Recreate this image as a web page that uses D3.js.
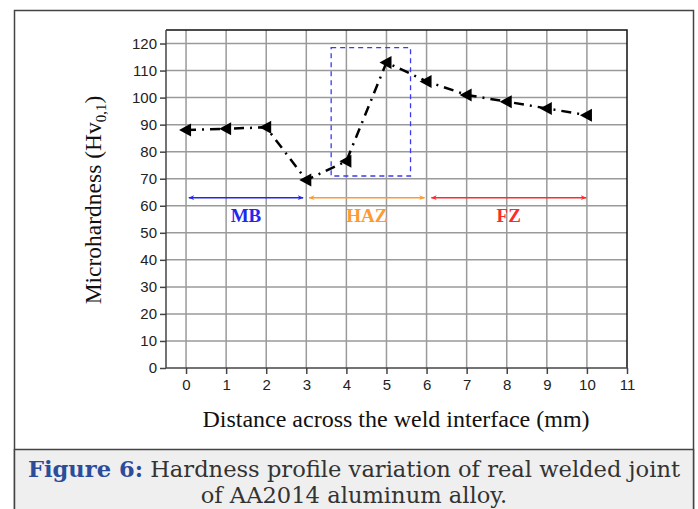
<!DOCTYPE html>
<meta charset="utf-8">
<style>
body { margin: 0; background: #fff; }
.grid line { stroke: #9a9a9a; stroke-width: 1.5px; }
.axis path, .axis line { stroke: #444; stroke-width: 1.5px; }
.lbl { font-family: 'Liberation Serif', 'Times New Roman', serif; fill: #111; }
.zone { font-family: 'Liberation Serif', serif; font-weight: bold; font-size: 19px; text-anchor: middle; }
.cap { font-family: 'DejaVu Serif', serif; font-size: 22.6px; fill: #333; }
</style>
<svg id="chart" width="698" height="509"></svg>
<script src="https://d3js.org/d3.v7.min.js"></script>
<script>
// hardness readings
var distance = [0, 1, 2, 3, 4, 5, 6, 7, 8, 9, 10];
var hardness = [88, 88.5, 89, 69.5, 76.5, 113, 106, 101, 98.5, 96, 93.5];
var xTicks = [0, 1, 2, 3, 4, 5, 6, 7, 8, 9, 10, 11];
var yTicks = [0, 10, 20, 30, 40, 50, 60, 70, 80, 90, 100, 110, 120];
var zoneNames = ["MB", "HAZ", "FZ"];
var zoneStart = [0.07, 3.07, 6.12];
var zoneEnd = [2.92, 5.95, 9.98];
var zoneColors = ["#2525f0", "#ff9a2e", "#ff2a2a"];
var zoneLevel = 63;
var boxX = [3.62, 5.6];
var boxY = [71, 118.5];

var svg = d3.select("#chart");

// outer frame + caption panel
svg.append("rect").attr("x", 14.5).attr("y", 10.5).attr("width", 679).attr("height", 510)
  .attr("fill", "#fff").attr("stroke", "#444").attr("stroke-width", 1.5);
svg.append("rect").attr("x", 14.5).attr("y", 449.5).attr("width", 679).attr("height", 70)
  .attr("fill", "#efefef").attr("stroke", "#444").attr("stroke-width", 1.5);

var pL = 166, pT = 30, pR = 627, pB = 368;
var x = d3.scaleLinear().domain([-0.5, 11]).range([pL, pR]);
var y = d3.scaleLinear().domain([0, 125]).range([pB, pT]);

// grid
var g = svg.append("g").attr("class", "grid");
g.selectAll(".v").data(xTicks.slice(0, -1)).enter().append("line")
  .attr("x1", d => x(d)).attr("x2", d => x(d)).attr("y1", pT).attr("y2", pB);
g.selectAll(".h").data(yTicks.slice(1)).enter().append("line")
  .attr("x1", pL).attr("x2", pR).attr("y1", d => y(d)).attr("y2", d => y(d));

// top/right frame
svg.append("path").attr("d", "M" + pL + "," + pT + "H" + pR + "V" + pB)
  .attr("fill", "none").attr("stroke", "#111").attr("stroke-width", 1.5);

function tickFont(a) {
  a.selectAll("text")
    .style("font-family", "'Liberation Sans', Arial, sans-serif")
    .style("font-size", "15px")
    .style("fill", "#222");
}
svg.append("g").attr("class", "axis").attr("transform", "translate(0," + pB + ")")
  .call(d3.axisBottom(x).tickValues(xTicks).tickSize(6).tickPadding(5))
  .call(a => a.select(".domain").attr("d", "M" + pL + ",0H" + pR))
  .call(tickFont);
svg.append("g").attr("class", "axis").attr("transform", "translate(" + pL + ",0)")
  .call(d3.axisLeft(y).tickValues(yTicks).tickSize(6).tickPadding(3))
  .call(a => a.select(".domain").attr("d", "M0," + pT + "V" + pB))
  .call(tickFont);

// blue dashed box
svg.append("rect")
  .attr("x", x(boxX[0])).attr("y", y(boxY[1]))
  .attr("width", x(boxX[1]) - x(boxX[0])).attr("height", y(boxY[0]) - y(boxY[1]))
  .attr("fill", "none").attr("stroke", "#3a3af5").attr("stroke-width", 1.3)
  .attr("stroke-dasharray", "5,4");

// zone arrows
var defs = svg.append("defs");
zoneColors.forEach(function(c, i) {
  defs.append("marker").attr("id", "ah" + i).attr("viewBox", "0 0 10 10")
    .attr("refX", 9).attr("refY", 5).attr("markerWidth", 8).attr("markerHeight", 6)
    .attr("markerUnits", "userSpaceOnUse").attr("orient", "auto-start-reverse")
    .append("path").attr("d", "M0,1L10,5L0,9L3,5Z").attr("fill", c);
});
zoneNames.forEach(function(n, i) {
  svg.append("line")
    .attr("x1", x(zoneStart[i])).attr("x2", x(zoneEnd[i]))
    .attr("y1", y(zoneLevel)).attr("y2", y(zoneLevel))
    .attr("stroke", zoneColors[i]).attr("stroke-width", 1.5)
    .attr("marker-start", "url(#ah" + i + ")").attr("marker-end", "url(#ah" + i + ")");
  svg.append("text").attr("class", "zone")
    .attr("x", (x(zoneStart[i]) + x(zoneEnd[i])) / 2).attr("y", y(zoneLevel) + 24)
    .attr("fill", zoneColors[i]).text(n);
});

// hardness profile
var pts = distance.map((d, i) => [d, hardness[i]]);
svg.append("path").datum(pts)
  .attr("d", d3.line().x(d => x(d[0])).y(d => y(d[1])))
  .attr("fill", "none").attr("stroke", "#000").attr("stroke-width", 2.5)
  .attr("stroke-dasharray", "10,6,2,6");
svg.selectAll(".pt").data(pts).enter().append("path")
  .attr("transform", d => "translate(" + x(d[0]) + "," + y(d[1]) + ")")
  .attr("d", "M-7,0L5,-6.5L5,6.5Z").attr("fill", "#000");

// axis titles
svg.append("text").attr("class", "lbl").attr("text-anchor", "middle").attr("font-size", 24)
  .attr("x", 396).attr("y", 427)
  .text("Distance across the weld interface (mm)");
var yl = svg.append("text").attr("class", "lbl").attr("text-anchor", "middle").attr("font-size", 23.5)
  .attr("transform", "translate(101,200) rotate(-90)");
yl.append("tspan").text("Microhardness (Hv");
yl.append("tspan").attr("font-size", 15).attr("dy", 5).text("0,1");
yl.append("tspan").attr("dy", -5).text(")");

// caption
var c1 = svg.append("text").attr("class", "cap").attr("text-anchor", "middle").attr("x", 354).attr("y", 477);
c1.append("tspan").attr("font-weight", "bold").attr("fill", "#2b4c9b").text("Figure 6:");
c1.append("tspan").text(" Hardness profile variation of real welded joint");
svg.append("text").attr("class", "cap").attr("text-anchor", "middle").attr("x", 354).attr("y", 503)
  .text("of AA2014 aluminum alloy.");
</script>
